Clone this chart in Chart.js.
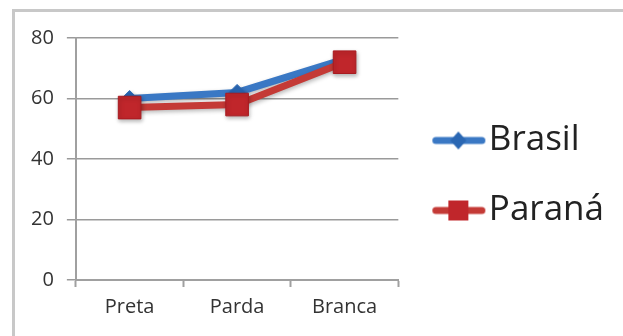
<!DOCTYPE html>
<html>
<head>
<meta charset="utf-8">
<script src="https://cdn.jsdelivr.net/npm/chart.js@4"></script>
<style>
  html, body { margin: 0; padding: 0; background: #fff; overflow: hidden; }
  #wrap { position: relative; width: 623px; height: 336px; }
  #frame { position: absolute; left: 12px; top: 9px; width: 700px; height: 400px;
           border: 3px solid #c8c8c8; box-sizing: border-box; }
  #chart { position: absolute; left: 0; top: 0; }
</style>
</head>
<body>
<div id="wrap">
  <div id="frame"></div>
  <canvas id="chart" width="623" height="336"></canvas>
</div>
<script>
const categories = ['Preta', 'Parda', 'Branca'];
const brasil = [60, 62, 73];
const parana = [57, 58, 72];
const yTicks = [0, 20, 40, 60, 80];

const blue = '#3a78c4';
const red = '#c43a36';

// legend samples: thick line with the marker in the middle
function legendSample(kind) {
    const c = document.createElement('canvas');
    c.width = 74; c.height = 26;
    const ctx = c.getContext('2d');
    ctx.lineCap = 'round';
    ctx.lineWidth = 7;
    ctx.strokeStyle = kind === 'blue' ? blue : red;
    ctx.beginPath();
    ctx.moveTo(20.5, 13);
    ctx.lineTo(66.5, 13);
    ctx.stroke();
    if (kind === 'blue') {
        ctx.fillStyle = '#2a67b3';
        ctx.beginPath();
        ctx.moveTo(43, 4); ctx.lineTo(51, 13); ctx.lineTo(43, 22); ctx.lineTo(35, 13);
        ctx.closePath();
        ctx.fill();
    } else {
        ctx.fillStyle = '#c0262b';
        ctx.fillRect(33, 3, 20, 20);
    }
    return c;
}
const samples = [legendSample('blue'), legendSample('red')];

const shadowPlugin = {
    id: 'shadow',
    beforeDatasetDraw(chart) {
        const ctx = chart.ctx;
        ctx.save();
        ctx.shadowColor = 'rgba(0,0,0,0.28)';
        ctx.shadowBlur = 4;
        ctx.shadowOffsetX = 1;
        ctx.shadowOffsetY = 2;
    },
    afterDatasetDraw(chart) {
        chart.ctx.restore();
    }
};

const chart = new Chart(document.getElementById('chart'), {
    type: 'line',
    data: {
        labels: categories,
        datasets: [{
            label: 'Brasil',
            data: brasil,
            order: 1,
            borderColor: blue,
            borderWidth: 7,
            pointStyle: 'rectRot',
            pointRadius: 8,
            pointBackgroundColor: '#2a67b3',
            pointBorderColor: '#2a67b3',
            pointBorderWidth: 1
        }, {
            label: 'Paraná',
            data: parana,
            order: 0,
            borderColor: red,
            borderWidth: 7,
            pointStyle: 'rect',
            pointRadius: 16,
            pointBackgroundColor: '#c0262b',
            pointBorderColor: '#a81b20',
            pointBorderWidth: 1
        }]
    },
    options: {
        responsive: false,
        animation: false,
        layout: { padding: { left: 18, right: 9, top: 38, bottom: 23 } },
        plugins: {
            tooltip: { enabled: false },
            legend: {
                position: 'right',
                maxWidth: 320,
                labels: {
                    usePointStyle: true,
                    pointStyleWidth: 38,
                    padding: 35,
                    color: '#222',
                    font: { family: 'Open Sans', size: 35 },
                    sort: (a, b) => a.datasetIndex - b.datasetIndex,
                    generateLabels: (ch) => ch.data.datasets.map((ds, i) => ({
                        text: ds.label,
                        datasetIndex: i,
                        pointStyle: samples[i],
                        fillStyle: 'transparent',
                        strokeStyle: 'transparent',
                        lineWidth: 0,
                        fontColor: '#222'
                    }))
                }
            }
        },
        scales: {
            x: {
                offset: true,
                afterFit: (axis) => { axis.height = 33; },
                grid: { offset: true, drawOnChartArea: false, color: '#a0a0a0', tickLength: 7, tickWidth: 2 },
                border: { color: '#a0a0a0', width: 2 },
                ticks: { color: '#333', font: { family: 'Open Sans', size: 20 }, padding: 8 }
            },
            y: {
                min: 0,
                max: 80,
                afterBuildTicks: (axis) => { axis.ticks = yTicks.map(v => ({ value: v })); },
                grid: { color: '#9a9a9a', lineWidth: 1.5, tickLength: 9 },
                border: { color: '#a0a0a0', width: 2 },
                ticks: { color: '#333', font: { family: 'Open Sans', size: 20 }, padding: 13 }
            }
        }
    },
    plugins: [shadowPlugin]
});
</script>
</body>
</html>
